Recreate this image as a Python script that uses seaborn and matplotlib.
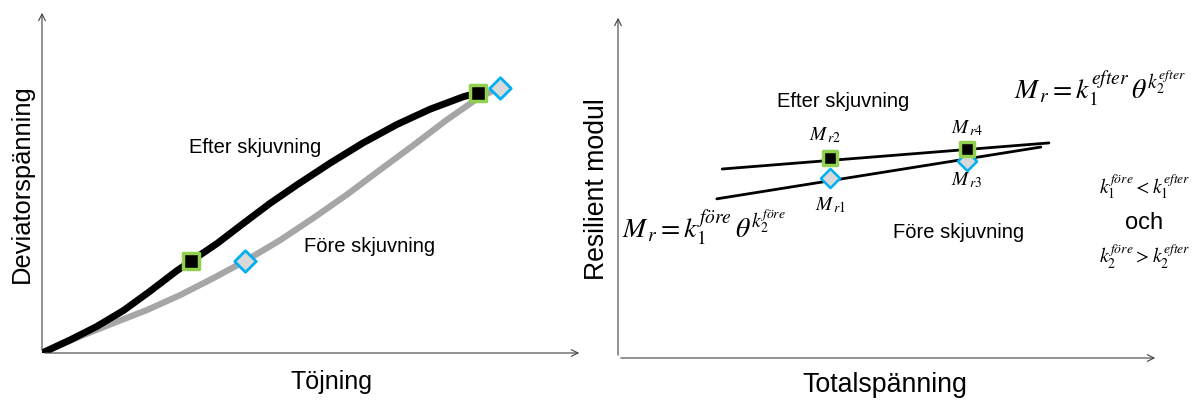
import numpy as np
import pandas as pd
import matplotlib
matplotlib.use("Agg")
import matplotlib.pyplot as plt
import seaborn as sns

sns.set_theme(style="white")
plt.rcParams['font.family'] = ['Liberation Sans', 'DejaVu Sans']
plt.rcParams['mathtext.fontset'] = 'stix'
plt.rcParams['text.color'] = 'black'

# left panel: stress-strain curves (arbitrary units 0..100)
efter_x = [0, 5.2, 10.1, 15.1, 20.0, 24.9, 27.6, 32.4, 37.3, 42.2, 47.2, 53.3, 59.5, 65.7, 71.9, 78.0, 80.8]
efter_y = [0, 3.8, 7.7, 12.4, 18.0, 23.9, 26.8, 31.9, 37.8, 43.6, 49.0, 55.3, 61.3, 66.6, 71.1, 74.7, 75.9]
fore_x = [0, 7.0, 13.2, 19.4, 25.6, 31.7, 37.6, 44.1, 50.2, 56.4, 62.6, 68.8, 74.9, 81.1, 83.5]
fore_y = [0, 4.8, 8.7, 12.5, 16.9, 21.8, 26.8, 32.9, 39.3, 46.1, 53.4, 60.6, 67.9, 74.7, 76.4]
efter_pts_x = [27.6, 80.8]
efter_pts_y = [26.8, 75.9]
fore_pts_x = [37.6, 84.8]
fore_pts_y = [26.8, 77.2]

# right panel: resilient modulus vs total stress
line_efter_x = [19.3, 79.8]
line_efter_y = [55.1, 62.7]
line_fore_x = [18.3, 78.3]
line_fore_y = [46.4, 61.5]
mr_efter_x = [39.3, 64.6]
mr_efter_y = [58.4, 60.9]
mr_efter_lab = ["$M_{\\,r2}$", "$M_{\\,r4}$"]
mr_fore_x = [39.3, 64.6]
mr_fore_y = [52.5, 57.4]
mr_fore_lab = ["$M_{\\,r1}$", "$M_{\\,r3}$"]

GREEN = "#92D050"
BLUE = "#00B0F0"
GRAY = "#A6A6A6"

fig = plt.figure(figsize=(12.03, 4.05), dpi=100)
W, H = 1203, 405
ax1 = fig.add_axes([42 / W, 1 - 353 / H, 540 / W, 343 / H])
ax2 = fig.add_axes([618 / W, 1 - 358 / H, 540 / W, 343 / H])

for ax in (ax1, ax2):
    ax.set_xlim(0, 100)
    ax.set_ylim(0, 100)
    ax.set_xticks([])
    ax.set_yticks([])
    for s in ax.spines.values():
        s.set_visible(False)
    ax.patch.set_alpha(0)
    ax.annotate("", xy=(1, 0), xytext=(0, 0), xycoords="axes fraction",
                arrowprops=dict(arrowstyle="->", lw=0.8, color="#404040"))
    ax.annotate("", xy=(0, 1), xytext=(0, 0), xycoords="axes fraction",
                arrowprops=dict(arrowstyle="->", lw=0.8, color="#404040"))

# left
sns.lineplot(x=fore_x, y=fore_y, ax=ax1, color=GRAY, lw=4.5, sort=False,
             solid_joinstyle="round", solid_capstyle="round")
sns.lineplot(x=efter_x, y=efter_y, ax=ax1, color="black", lw=5, sort=False,
             solid_joinstyle="round", solid_capstyle="round")
ax1.scatter(efter_pts_x, efter_pts_y, marker="s", s=120, c="black",
            edgecolors=GREEN, linewidths=2.5, zorder=5)
ax1.scatter(fore_pts_x, fore_pts_y, marker="D", s=120, c="#D9D9D9",
            edgecolors=BLUE, linewidths=2, zorder=5)
ax1.text(39.4, 59.8, "Efter skjuvning", fontsize=14.5, ha="center", va="center")
ax1.text(60.7, 31.0, "Före skjuvning", fontsize=14.5, ha="center", va="center")
ax1.text(0.537, -0.085, "Töjning", fontsize=18, ha="center", va="center",
         transform=ax1.transAxes)
ax1.text(-0.037, 0.493, "Deviatorspänning", fontsize=18.4, ha="center", va="center",
         rotation=90, transform=ax1.transAxes)

# right
sns.lineplot(x=line_efter_x, y=line_efter_y, ax=ax2, color="black", lw=2)
sns.lineplot(x=line_fore_x, y=line_fore_y, ax=ax2, color="black", lw=2)
ax2.scatter(mr_fore_x, mr_fore_y, marker="D", s=95, c="#D9D9D9",
            edgecolors=BLUE, linewidths=1.8, zorder=4)
ax2.scatter(mr_efter_x, mr_efter_y, marker="s", s=110, c="black",
            edgecolors=GREEN, linewidths=2.5, zorder=5)
ax2.text(38.3, 65.0, mr_efter_lab[0], fontsize=14, ha="center", va="center")
ax2.text(64.6, 67.1, mr_efter_lab[1], fontsize=14, ha="center", va="center")
ax2.text(39.4, 44.6, mr_fore_lab[0], fontsize=14, ha="center", va="center")
ax2.text(64.6, 51.9, mr_fore_lab[1], fontsize=14, ha="center", va="center")

ax2.text(41.7, 74.7, "Efter skjuvning", fontsize=14.5, ha="center", va="center")
ax2.text(63, 36.5, "Före skjuvning", fontsize=14.5, ha="center", va="center")
ax2.text(0.494, -0.08, "Totalspänning", fontsize=19.3, ha="center", va="center",
         transform=ax2.transAxes)
ax2.text(-0.039, 0.493, "Resilient modul", fontsize=19.2, ha="center", va="center",
         rotation=90, transform=ax2.transAxes)

ax2.text(89.3, 78.3, r"$M_{\,r} = k_1^{efter}\,\theta^{k_2^{efter}}$", fontsize=20,
         ha="center", va="center")
ax2.text(16, 38, r"$M_{\,r} = k_1^{före}\,\theta^{k_2^{före}}$", fontsize=20,
         ha="center", va="center")
ax2.text(97.5, 50, r"$k_1^{före} < k_1^{efter}$", fontsize=14, ha="center", va="center")
ax2.text(97.5, 39.5, "och", fontsize=17, ha="center", va="center")
ax2.text(97.5, 29.5, r"$k_2^{före} > k_2^{efter}$", fontsize=14, ha="center", va="center")

fig.savefig("out.png", dpi=100)
